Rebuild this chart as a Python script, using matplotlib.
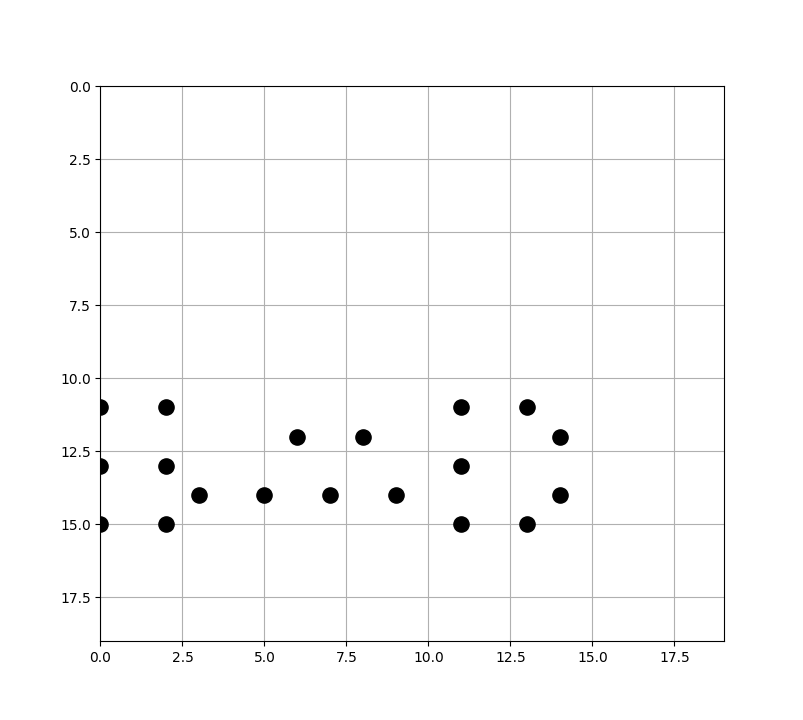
import matplotlib
matplotlib.use('Agg')
import matplotlib.pyplot as plt

# Point positions on the board (column, row)
xs = [0, 2, 0, 2, 0, 2, 3, 5, 6, 7, 8, 9, 11, 11, 11, 13, 14, 14, 13]
ys = [11, 11, 13, 13, 15, 15, 14, 14, 12, 14, 12, 14, 11, 13, 15, 11, 12, 14, 15]
size = 19

fig, ax = plt.subplots(figsize=(8.04, 7.2), dpi=100)
ax.scatter(xs, ys, s=120, c='black', zorder=3)
ax.set_xlim(0, size)
ax.set_ylim(size, 0)
ax.grid(True)
ax.set_axisbelow(True)

plt.savefig('out.png')
